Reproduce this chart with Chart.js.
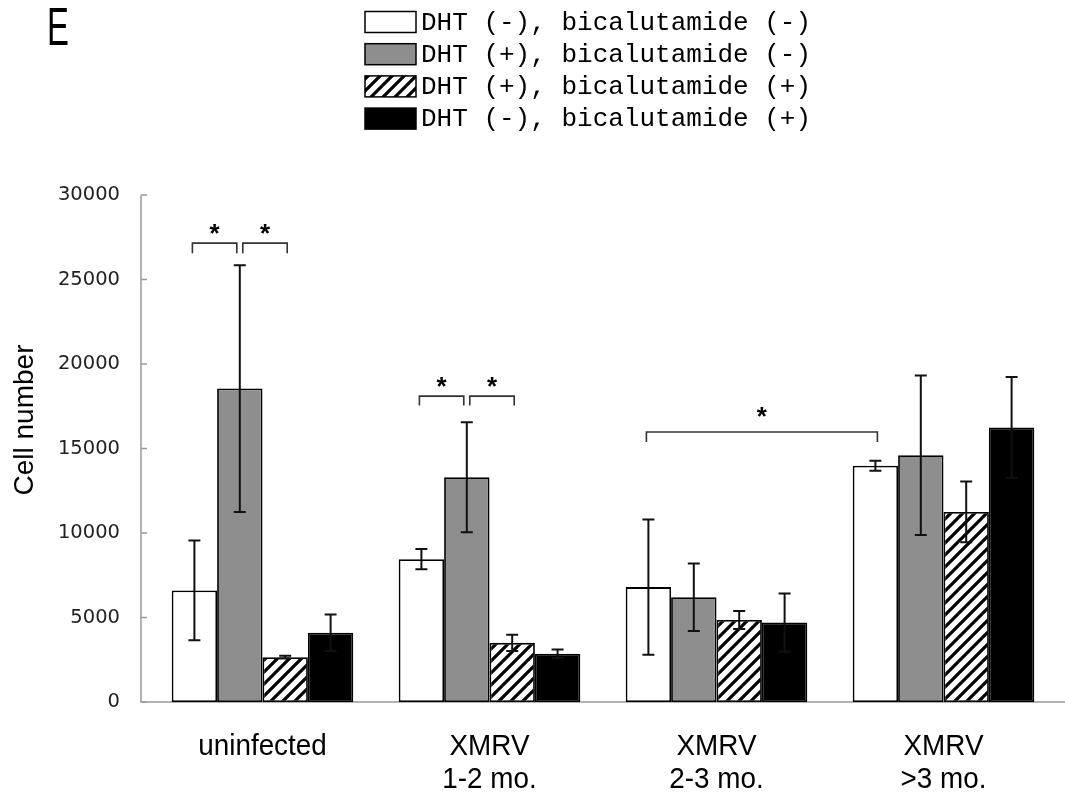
<!DOCTYPE html>
<html><head><meta charset="utf-8">
<script src="https://cdn.jsdelivr.net/npm/chart.js@4/dist/chart.umd.min.js"></script>
<style>html,body{margin:0;padding:0;background:#fff}canvas{display:block}</style>
</head><body>
<canvas id="c" width="1065" height="792"></canvas>
<script>
// ---- data ----
const categories = [['uninfected'], ['XMRV', '1-2 mo.'], ['XMRV', '2-3 mo.'], ['XMRV', '>3 mo.']];
const seriesNames = ['DHT (-), bicalutamide (-)', 'DHT (+), bicalutamide (-)', 'DHT (+), bicalutamide (+)', 'DHT (-), bicalutamide (+)'];
const valsWhite = [6600, 8450, 6800, 13980];
const errWhite = [2950, 600, 4000, 300];
const valsGray = [18550, 13300, 6200, 14600];
const errGray = [7300, 3250, 2000, 4720];
const valsHatch = [2650, 3500, 4850, 11250];
const errHatch = [80, 480, 530, 1800];
const valsBlack = [4100, 2850, 4700, 16250];
const errBlack = [1080, 250, 1720, 2980];
const yTicks = [0, 5000, 10000, 15000, 20000, 25000, 30000];
const yTitle = 'Cell number';
const panelLabel = 'E';
// significance brackets: [dataset, category] endpoints, bracket top value, leg bottom value, star value
const brackets = [
  { from: [0, 0], to: [1, 0], top: 27150, leg: 26550, star: 27930, ends: ['out', 'in'] },
  { from: [1, 0], to: [2, 0], top: 27150, leg: 26550, star: 27930, ends: ['in', 'out'] },
  { from: [0, 1], to: [1, 1], top: 18100, leg: 17550, star: 18880, ends: ['out', 'in'] },
  { from: [1, 1], to: [2, 1], top: 18100, leg: 17550, star: 18880, ends: ['in', 'out'] },
  { from: [0, 2], to: [0, 3], top: 15980, leg: 15380, star: 17100, ends: ['out', 'out'] }
];

// ---- hatch pattern ----
function makeHatch() {
  const s = 12;
  const p = document.createElement('canvas');
  p.width = s; p.height = s;
  const g = p.getContext('2d');
  g.fillStyle = '#fff'; g.fillRect(0, 0, s, s);
  g.strokeStyle = '#000'; g.lineWidth = 3.2; g.lineCap = 'square';
  [-s, 0, s].forEach(dx => {
    g.beginPath(); g.moveTo(dx, s); g.lineTo(dx + s, 0); g.stroke();
  });
  return g.createPattern(p, 'repeat');
}
const ctx0 = document.getElementById('c').getContext('2d');
const hatch = makeHatch();
const fills = ['#ffffff', '#8e8e8e', hatch, '#000000'];
const valueSets = [valsWhite, valsGray, valsHatch, valsBlack];
const errSets = [errWhite, errGray, errHatch, errBlack];

const AXIS_GRAY = '#9a9a9a';

const decor = {
  id: 'decor',
  beforeDatasetsDraw(chart) {
    const c = chart.ctx, ys = chart.scales.y, a = chart.chartArea;
    const ax = a.left - 8;
    c.save();
    c.strokeStyle = AXIS_GRAY; c.lineWidth = 1.5;
    c.beginPath();
    c.moveTo(ax, ys.getPixelForValue(yTicks[yTicks.length - 1]));
    c.lineTo(ax, a.bottom);
    c.lineTo(chart.width, a.bottom);
    c.stroke();
    yTicks.forEach(v => {
      const y = ys.getPixelForValue(v);
      c.beginPath(); c.moveTo(ax, y); c.lineTo(ax + 6, y); c.stroke();
    });
    c.restore();
  },
  afterDatasetsDraw(chart) {
    const c = chart.ctx, ys = chart.scales.y, xs = chart.scales.x, a = chart.chartArea;
    c.save();
    // error bars
    c.strokeStyle = '#111'; c.lineWidth = 2;
    valueSets.forEach((vals, di) => {
      const meta = chart.getDatasetMeta(di);
      meta.data.forEach((el, j) => {
        const x = el.x;
        const yT = ys.getPixelForValue(vals[j] + errSets[di][j]);
        const yB = ys.getPixelForValue(Math.max(0, vals[j] - errSets[di][j]));
        c.beginPath();
        c.moveTo(x, yT); c.lineTo(x, yB);
        c.moveTo(x - 6, yT); c.lineTo(x + 6, yT);
        c.moveTo(x - 6, yB); c.lineTo(x + 6, yB);
        c.stroke();
      });
    });
    // brackets
    c.strokeStyle = '#333'; c.lineWidth = 1.6;
    c.fillStyle = '#000';
    c.font = 'bold 26px "Liberation Sans", Arial, sans-serif';
    c.textAlign = 'center'; c.textBaseline = 'middle';
    brackets.forEach(b => {
      const e1 = chart.getDatasetMeta(b.from[0]).data[b.from[1]];
      const e2 = chart.getDatasetMeta(b.to[0]).data[b.to[1]];
      const x1 = e1.x + (b.ends[0] === 'in' ? 3 : -2);
      const x2 = e2.x + (b.ends[1] === 'in' ? -3 : 2);
      const yt = ys.getPixelForValue(b.top), yl = ys.getPixelForValue(b.leg);
      c.beginPath();
      c.moveTo(x1, yl); c.lineTo(x1, yt); c.lineTo(x2, yt); c.lineTo(x2, yl);
      c.stroke();
      c.fillText('*', (x1 + x2) / 2, ys.getPixelForValue(b.star) + 5);
    });
    // x category labels
    c.fillStyle = '#000';
    c.font = '29px "Liberation Sans", Arial, sans-serif';
    categories.forEach((lab, i) => {
      const x = xs.getPixelForValue(i);
      lab.forEach((line, k) => {
        c.save();
        c.translate(x, a.bottom + 45 + k * 33);
        c.scale(0.96, 1);
        c.fillText(line, 0, 0);
        c.restore();
      });
    });
    // y title
    c.save();
    c.translate(25, 420);
    c.rotate(-Math.PI / 2);
    c.font = '28px "Liberation Sans", Arial, sans-serif';
    c.fillText(yTitle, 0, 0);
    c.restore();
    // panel label
    c.save();
    c.translate(58, 30);
    c.scale(0.62, 1);
    c.font = '53px "Liberation Sans", Arial, sans-serif';
    c.fillText(panelLabel, 0, 0);
    c.restore();
    // legend
    c.font = '26px "Liberation Mono", "DejaVu Sans Mono", monospace';
    c.textAlign = 'left';
    seriesNames.forEach((name, i) => {
      const cy = 22 + i * 32.2;
      c.fillStyle = fills[i];
      c.fillRect(365, cy - 10.5, 51, 21);
      c.strokeStyle = '#000'; c.lineWidth = 1.5;
      c.strokeRect(365, cy - 10.5, 51, 21);
      c.fillStyle = '#000';
      c.fillText(name, 421, cy + 1);
    });
    c.restore();
  }
};

new Chart(ctx0, {
  type: 'bar',
  data: {
    labels: categories,
    datasets: valueSets.map((vals, i) => ({
      label: seriesNames[i],
      data: vals,
      backgroundColor: fills[i],
      borderColor: '#000',
      borderWidth: 1.8,
      borderSkipped: false,
      categoryPercentage: 0.8,
      barPercentage: 1.0
    }))
  },
  options: {
    responsive: false,
    animation: false,
    events: [],
    layout: { padding: { top: 195, right: 8, left: 0, bottom: 0 } },
    plugins: { legend: { display: false }, tooltip: { enabled: false }, title: { display: false } },
    scales: {
      x: {
        grid: { display: false },
        border: { display: false },
        ticks: { display: false },
        afterFit(s) { s.height = 90; }
      },
      y: {
        min: 0, max: 30000,
        afterBuildTicks(s) { s.ticks = yTicks.map(v => ({ value: v })); },
        grid: { display: false, drawTicks: false },
        border: { display: false },
        ticks: {
          padding: 29,
          color: '#222',
          font: { family: '"DejaVu Sans", sans-serif', size: 19.5 },
          callback: v => String(v)
        },
        afterFit(s) { s.width = 149; }
      }
    }
  },
  plugins: [decor]
});
</script>
</body></html>
